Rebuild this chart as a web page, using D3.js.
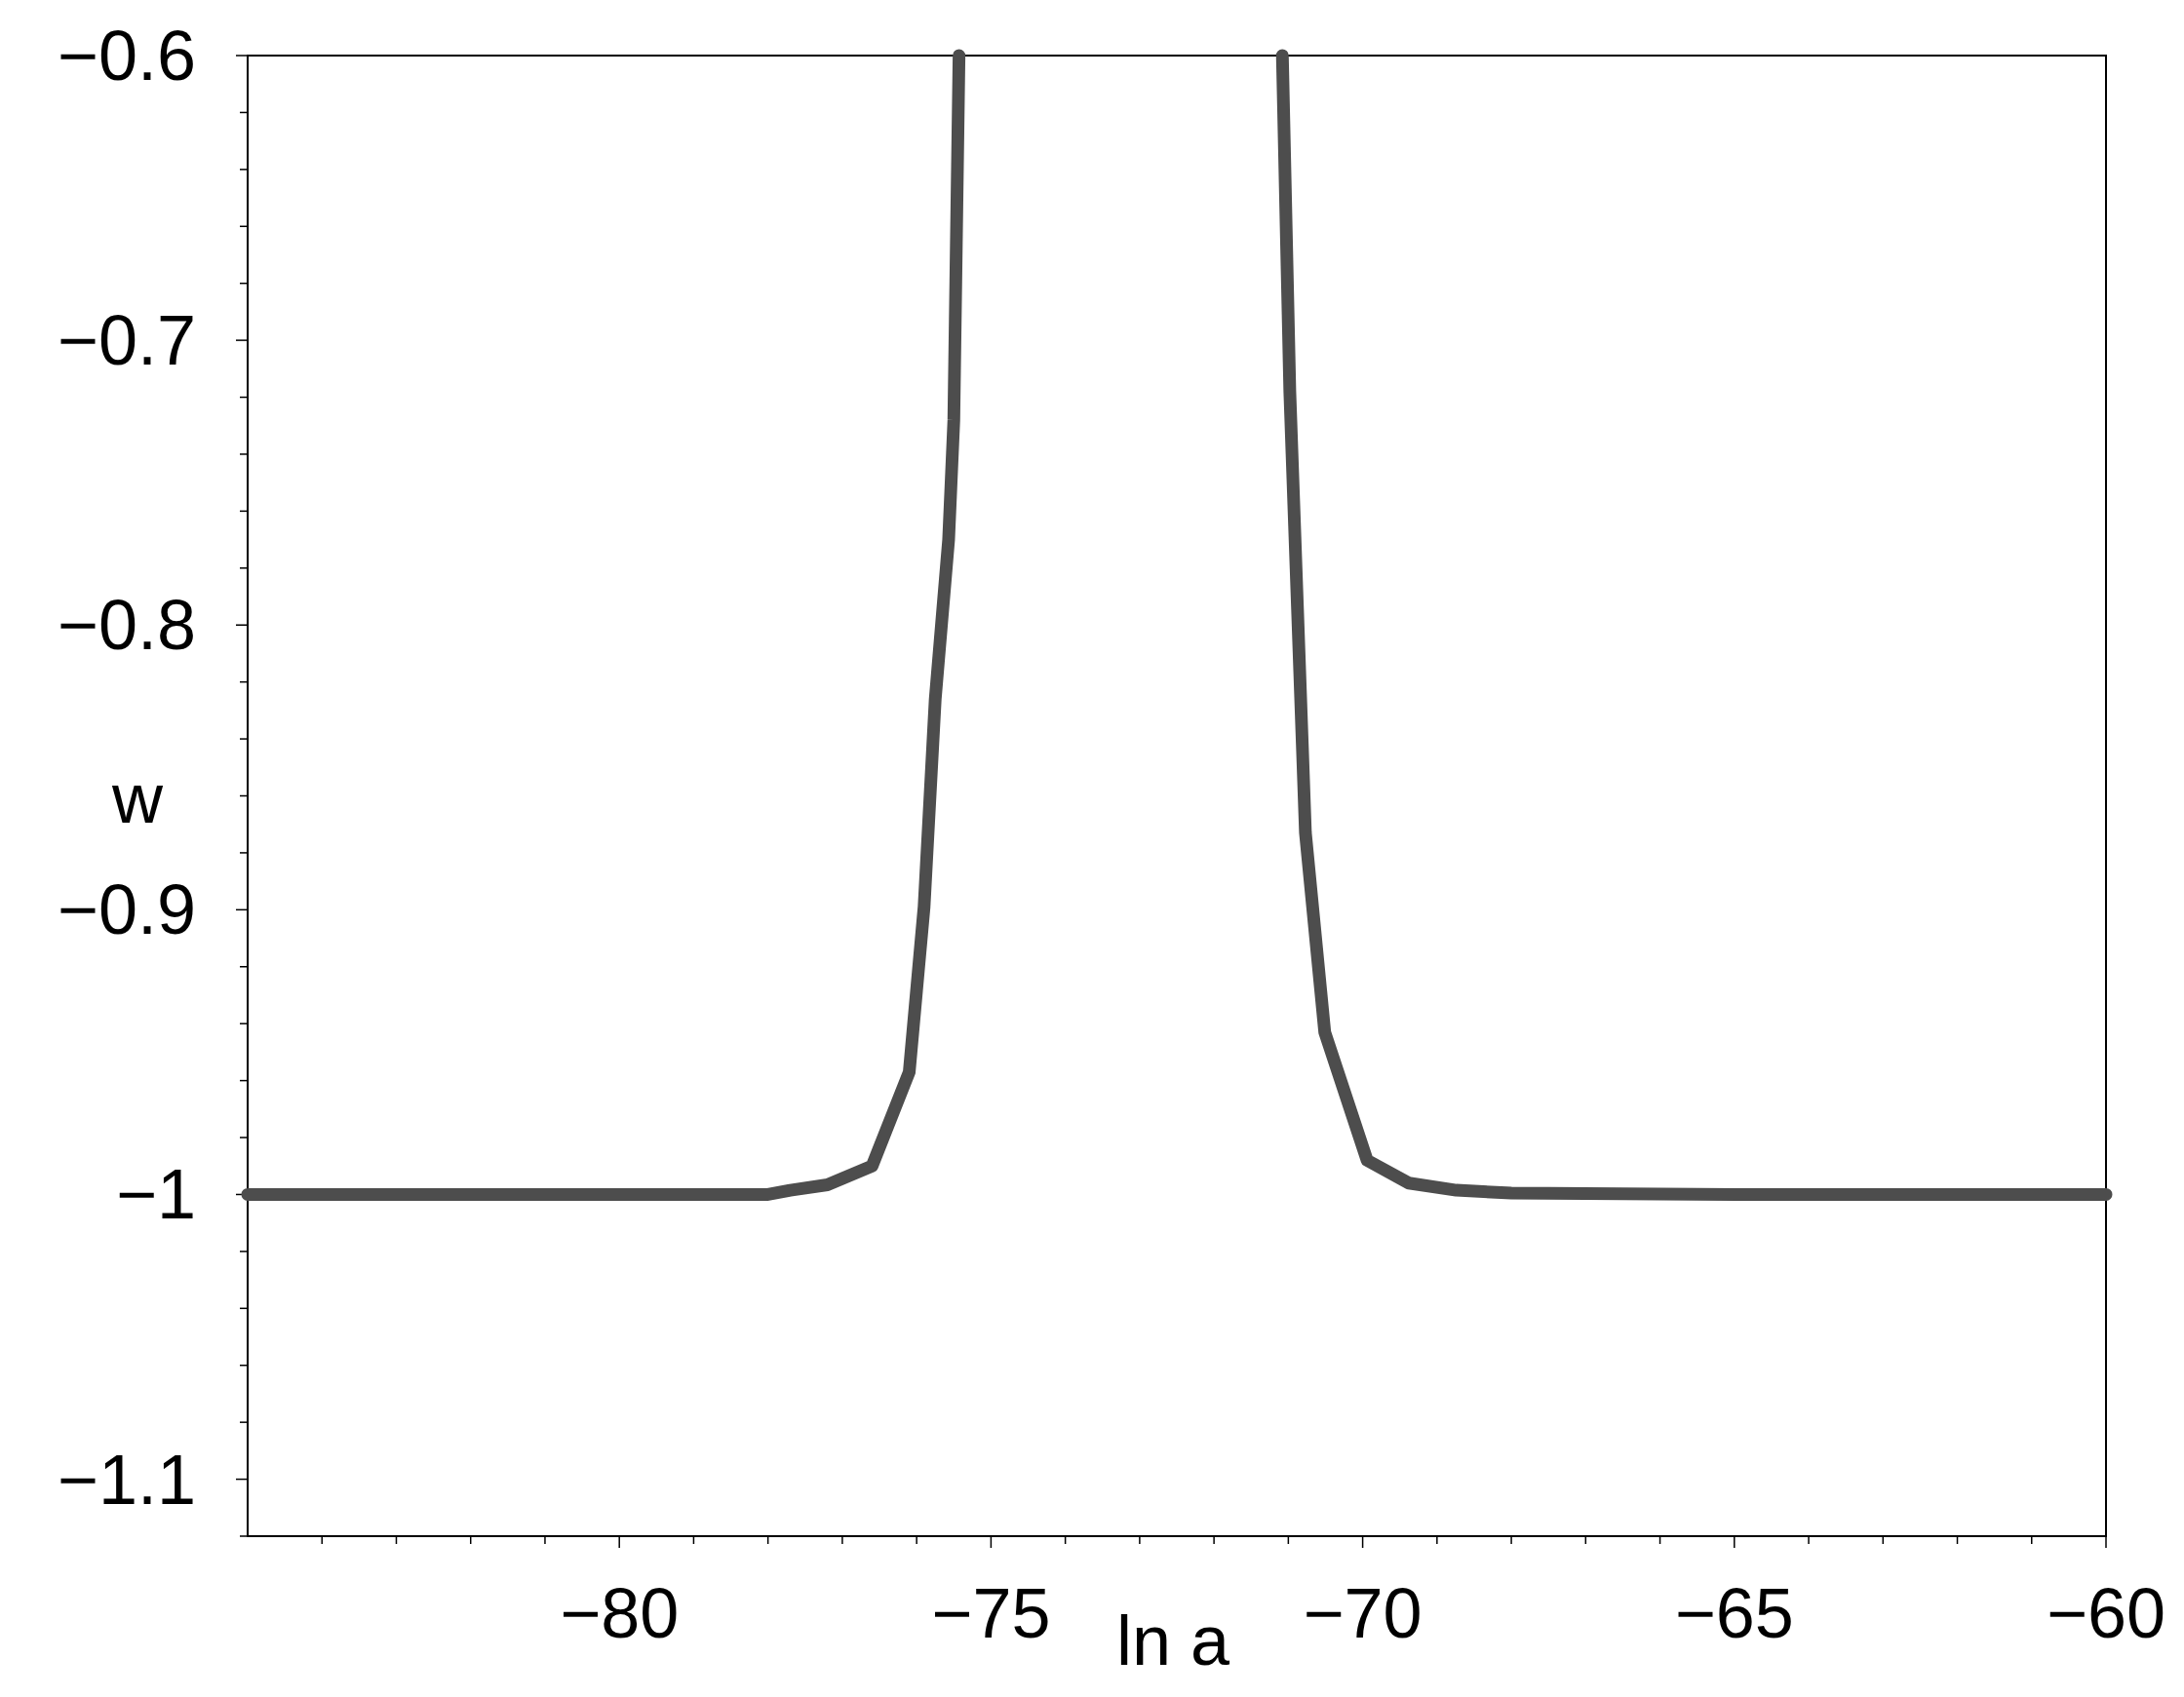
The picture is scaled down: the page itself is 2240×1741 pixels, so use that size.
<!DOCTYPE html>
<html><head><meta charset="utf-8">
<script src="https://cdn.jsdelivr.net/npm/d3@7"></script>
<style>body{margin:0;background:#fff}text{font-family:"Liberation Sans Narrow","Liberation Sans",sans-serif}</style>
</head><body>
<script>
// w(ln a) curve
const lnA = [-85, -80, -78, -77.7, -77.2, -76.6, -76.1, -75.9, -75.75, -75.57, -75.5, -75.43];
const wLeft = [-1, -1, -1, -0.9985, -0.9966, -0.990, -0.957, -0.899, -0.826, -0.770, -0.728, -0.6];
const lnA2 = [-71.08, -70.98, -70.77, -70.51, -69.94, -69.38, -68.74, -68, -65, -60];
const wRight = [-0.6, -0.718, -0.873, -0.943, -0.988, -0.996, -0.9985, -0.9995, -1, -1];
const xTicks = [-80, -75, -70, -65, -60];
const yTicks = [-0.6, -0.7, -0.8, -0.9, -1, -1.1];

const W = 2240, H = 1741;
const m = {l: 254, r: 2160, t: 57, b: 1576};
const svg = d3.select("body").append("svg").attr("width", W).attr("height", H);
const x = d3.scaleLinear().domain([-85, -60]).range([m.l, m.r]);
const y = d3.scaleLinear().domain([-1.12, -0.6]).range([m.b, m.t]);
const fmt = d => String(d).replace("-", "\u2212");

svg.append("rect").attr("x", m.l).attr("y", m.t).attr("width", m.r - m.l).attr("height", m.b - m.t)
  .attr("fill", "none").attr("stroke", "#000").attr("stroke-width", 2);

// minor ticks
svg.selectAll(".xt").data(d3.range(-84, -59, 1)).join("line")
  .attr("x1", d => x(d)).attr("x2", d => x(d)).attr("y1", m.b).attr("y2", d => m.b + (xTicks.includes(d) ? 12 : 8))
  .attr("stroke", "#000").attr("stroke-width", 1.5);
svg.selectAll(".yt").data(d3.range(-1.12, -0.599, 0.02)).join("line")
  .attr("y1", d => y(d)).attr("y2", d => y(d)).attr("x1", m.l)
  .attr("x2", d => m.l - (Math.abs(d * 10 - Math.round(d * 10)) < 0.01 ? 12 : 8))
  .attr("stroke", "#000").attr("stroke-width", 1.5);

svg.selectAll(".xl").data(xTicks).join("text")
  .attr("x", d => x(d)).attr("y", 1680).attr("text-anchor", "middle")
  .attr("font-size", 72).text(fmt);
svg.selectAll(".yl").data(yTicks).join("text")
  .attr("x", 201).attr("y", d => y(d) + 25).attr("text-anchor", "end")
  .attr("font-size", 72).text(fmt);

svg.append("text").attr("x", 1203).attr("y", 1708).attr("text-anchor", "middle").attr("font-size", 72).text("ln a");
svg.append("text").attr("x", 141).attr("y", 844).attr("text-anchor", "middle").attr("font-size", 72).text("w");

const line = d3.line().x(d => x(d[0])).y(d => y(d[1]));
[[lnA, wLeft], [lnA2, wRight]].forEach(([xs, ys]) => {
  svg.append("path").datum(xs.map((v, i) => [v, ys[i]])).attr("d", line)
    .attr("fill", "none").attr("stroke", "#4d4d4d").attr("stroke-width", 13)
    .attr("stroke-linecap", "round").attr("stroke-linejoin", "round");
});
</script>
</body></html>
